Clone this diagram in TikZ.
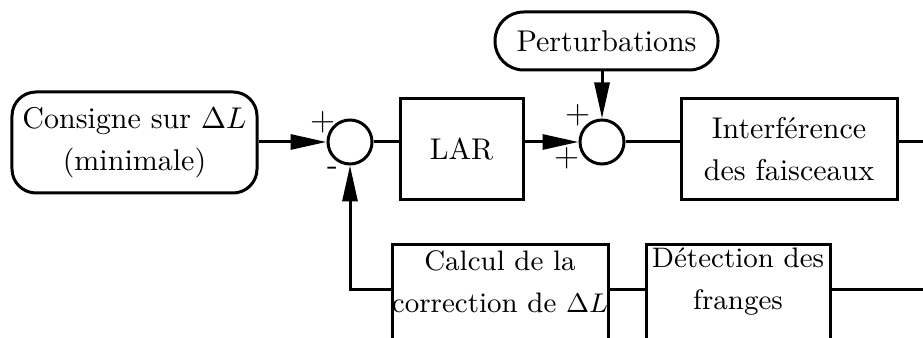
\documentclass[tikz,border=0pt]{standalone}
\usetikzlibrary{arrows.meta}
\begin{document}
\begin{tikzpicture}[x=0.33333pt,y=-0.33333pt, line width=1pt,
  every node/.style={font=\fontsize{10}{14}\selectfont, align=center},
  blk/.style={draw, rectangle, inner sep=0pt},
  rblk/.style={draw, rectangle, rounded corners=8pt, inner sep=0pt},
  sumc/.style={draw, circle, minimum size=14.67pt, inner sep=0pt},
  sgn/.style={font=\sffamily\fontsize{11}{12}\selectfont, inner sep=0pt},
  lowtxt/.style={font=\fontsize{9.4}{14}\selectfont},
  arr/.style={-{Triangle[length=12pt,width=5pt]}}]
\useasboundingbox (0,0) rectangle (923,338);
\node[rblk, minimum width=81.67pt, minimum height=33.67pt] (cons) at (134.5,142.5) {Consigne sur $\Delta L$\\(minimale)};
\node[sumc] (c1) at (350,142) {};
\node[blk, minimum width=41pt, minimum height=33.67pt] (lar) at (461.5,149.5) {LAR};
\node[sumc] (c2) at (602,142) {};
\node[rblk, rounded corners=9.5pt, minimum width=74.33pt, minimum height=19.33pt] (pert) at (606.5,41) {Perturbations};
\node[blk, minimum width=72pt, minimum height=33.67pt] (inter) at (789,149.5) {Interf\'erence\\des faisceaux};
\node[blk, minimum width=72pt, minimum height=40pt, anchor=north] (calc) at (500,243) {};
\node[lowtxt] (calct) at (500,282) {Calcul de la\\correction de $\Delta L$};
\node[blk, minimum width=61.33pt, minimum height=40pt, anchor=north] (det) at (738,243) {};
\node[lowtxt] (dett) at (738,282) {D\'etection des\\franges};
\coordinate (outT) at (923,142);
\coordinate (outB) at (923,290);
\coordinate (row) at (0,290);
\node[sgn] (p1) at (323,122) {+};
\node[sgn] (m1) at (333,171) {-};
\node[sgn] (p2) at (578,115) {+};
\node[sgn] (p3) at (567,158) {+};
\draw[arr] (cons.east |- c1) -- (c1.west);
\draw (c1.east) -- (c1.east -| lar.west);
\draw[arr] (lar.east |- c2) -- (c2.west);
\draw[arr] (c2 |- pert.south) -- (c2.north);
\draw (c2.east) -- (c2.east -| inter.west);
\draw (inter.east |- outT) -- (outT);
\draw (outB) -- (det.east |- outB);
\draw (det.west |- row) -- (calc.east |- row);
\draw[arr] (calc.west |- row) -| (c1.south);
\end{tikzpicture}
\end{document}
